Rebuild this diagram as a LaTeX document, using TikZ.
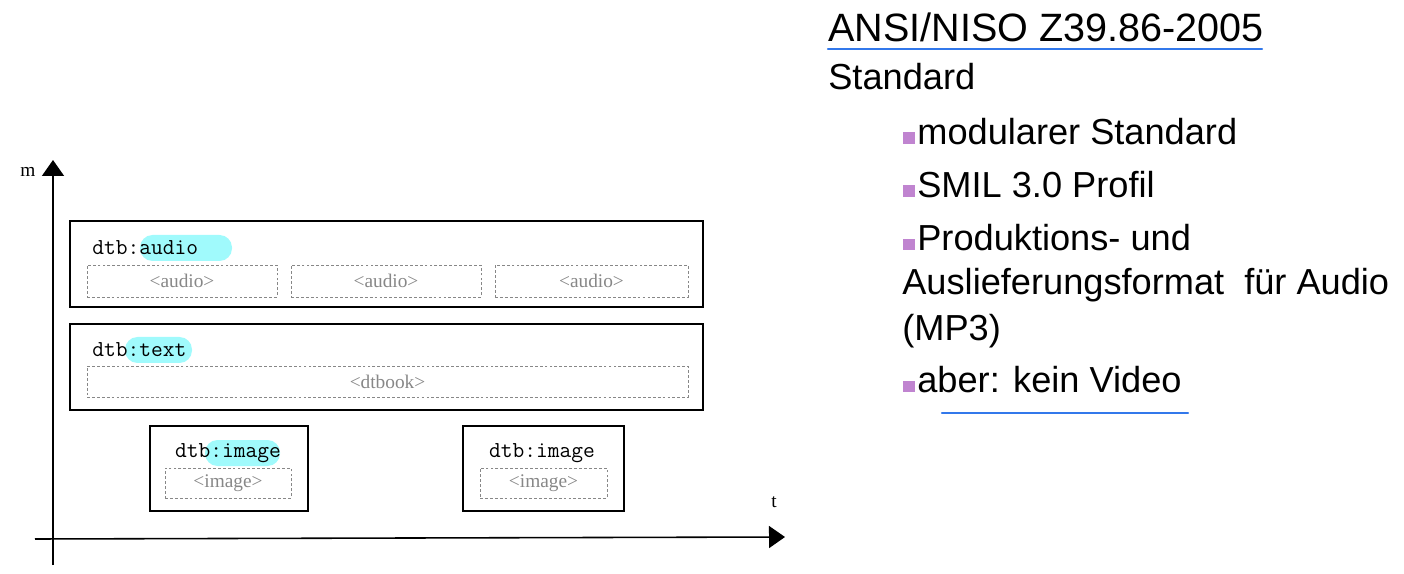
\documentclass[tikz,border=0pt]{standalone}
\usepackage{fontspec}
\setmainfont{Liberation Sans}
\newfontfamily\tagserif{Liberation Serif}
\usetikzlibrary{arrows.meta}
\definecolor{hicyan}{RGB}{160,250,252}
\definecolor{slotgray}{RGB}{135,135,135}
\definecolor{bulletlila}{RGB}{192,132,208}
\definecolor{lineblue}{RGB}{50,120,235}
\tikzset{
	axis/.style={line width=0.9pt,-{Triangle[length=0.32cm,width=0.44cm]}},
	outerbox/.style={draw,line width=0.9pt,inner sep=0pt},
	slotbox/.style={draw=slotgray,dash pattern=on 1.6pt off 1.2pt,line width=0.5pt,inner sep=0pt,text=slotgray,font=\tagserif\fontsize{11pt}{13pt}\selectfont},
	tag/.style={inner sep=0pt,font=\ttfamily\fontsize{13pt}{15pt}\selectfont},
	hilite/.style={fill=hicyan,rounded corners=0.25cm},
	axislabel/.style={inner sep=0pt,font=\tagserif\fontsize{11pt}{13pt}\selectfont},
	bullet/.style={fill=bulletlila,inner sep=0pt,minimum size=0.23cm},
	bodytext/.style={anchor=base west,inner sep=0pt,font=\fontsize{20.6pt}{24pt}\selectfont},
	uline/.style={draw=lineblue,line width=1.4pt,line cap=round}
}
\begin{document}
\begin{tikzpicture}[x=0.02cm,y=-0.02cm]
		\useasboundingbox (0,0) rectangle (1404,574);
		\coordinate (mtip) at (53,160);
		\coordinate (ttip) at (785,537);
		\draw[axis] (53,565) -- (mtip);
		\draw[axis] (35,539) -- (ttip);
		\node[axislabel] (mlabel) at (28,172) {m};
		\node[axislabel] (tlabel) at (774,502) {t};
		\node[outerbox,minimum width=12.66cm,minimum height=1.72cm] (audiobox) at (386.5,264) {};
		\node[outerbox,minimum width=12.66cm,minimum height=1.72cm] (textbox) at (386.5,367) {};
		\node[outerbox,minimum width=3.16cm,minimum height=1.7cm] (imagebox1) at (229,468.5) {};
		\node[outerbox,minimum width=3.22cm,minimum height=1.7cm] (imagebox2) at (543.5,468.5) {};
		\fill[hilite] (140,235) rectangle (232,261);
		\fill[hilite] (125,337) rectangle (192,363);
		\fill[hilite] (205,440) rectangle (280,466);
		\node[tag,anchor=west] (audiotag) at (92,248) {dtb:audio};
		\node[tag,anchor=west] (texttag) at (92,350) {dtb:text};
		\node[tag] (imagetag1) at (228,453) {dtb:image};
		\node[tag] (imagetag2) at (542,453) {dtb:image};
		\node[slotbox,minimum width=3.8cm,minimum height=0.64cm] (audio1) at (182,281) {\textless audio\textgreater};
		\node[slotbox,minimum width=3.8cm,minimum height=0.64cm] (audio2) at (386,281) {\textless audio\textgreater};
		\node[slotbox,minimum width=3.86cm,minimum height=0.64cm] (audio3) at (591.5,281) {\textless audio\textgreater};
		\node[slotbox,minimum width=12.02cm,minimum height=0.62cm] (dtbook) at (387.5,381.5) {\textless dtbook\textgreater};
		\node[slotbox,minimum width=2.52cm,minimum height=0.6cm] (image1) at (228,483) {\textless image\textgreater};
		\node[slotbox,minimum width=2.54cm,minimum height=0.6cm] (image2) at (543.5,483) {\textless image\textgreater};
		\node[bodytext,font=\fontsize{22.5pt}{26pt}\selectfont] (title) at (828,42) {ANSI/NISO Z39.86-2005};
		\draw[uline] (828,49) -- (1262,49);
		\node[bodytext] (standard) at (828,90) {Standard};
		\node[bullet] (b1) at (909,138) {};
		\node[bullet] (b2) at (909,191) {};
		\node[bullet] (b3) at (909,244.5) {};
		\node[bullet] (b4) at (909,386.5) {};
		\node[bodytext] (item1) at (917,145) {modularer Standard};
		\node[bodytext] (item2) at (917,198) {SMIL 3.0 Profil};
		\node[bodytext] (item3a) at (917,251) {Produktions- und};
		\node[bodytext] (item3b) at (902,295) {Auslieferungsformat\ \ für Audio};
		\node[bodytext] (item3c) at (902,341) {(MP3)};
		\node[bodytext] (item4) at (917,393) {aber: kein Video};
		\draw[uline] (942,413) -- (1188,413);
	\end{tikzpicture}
\end{document}
